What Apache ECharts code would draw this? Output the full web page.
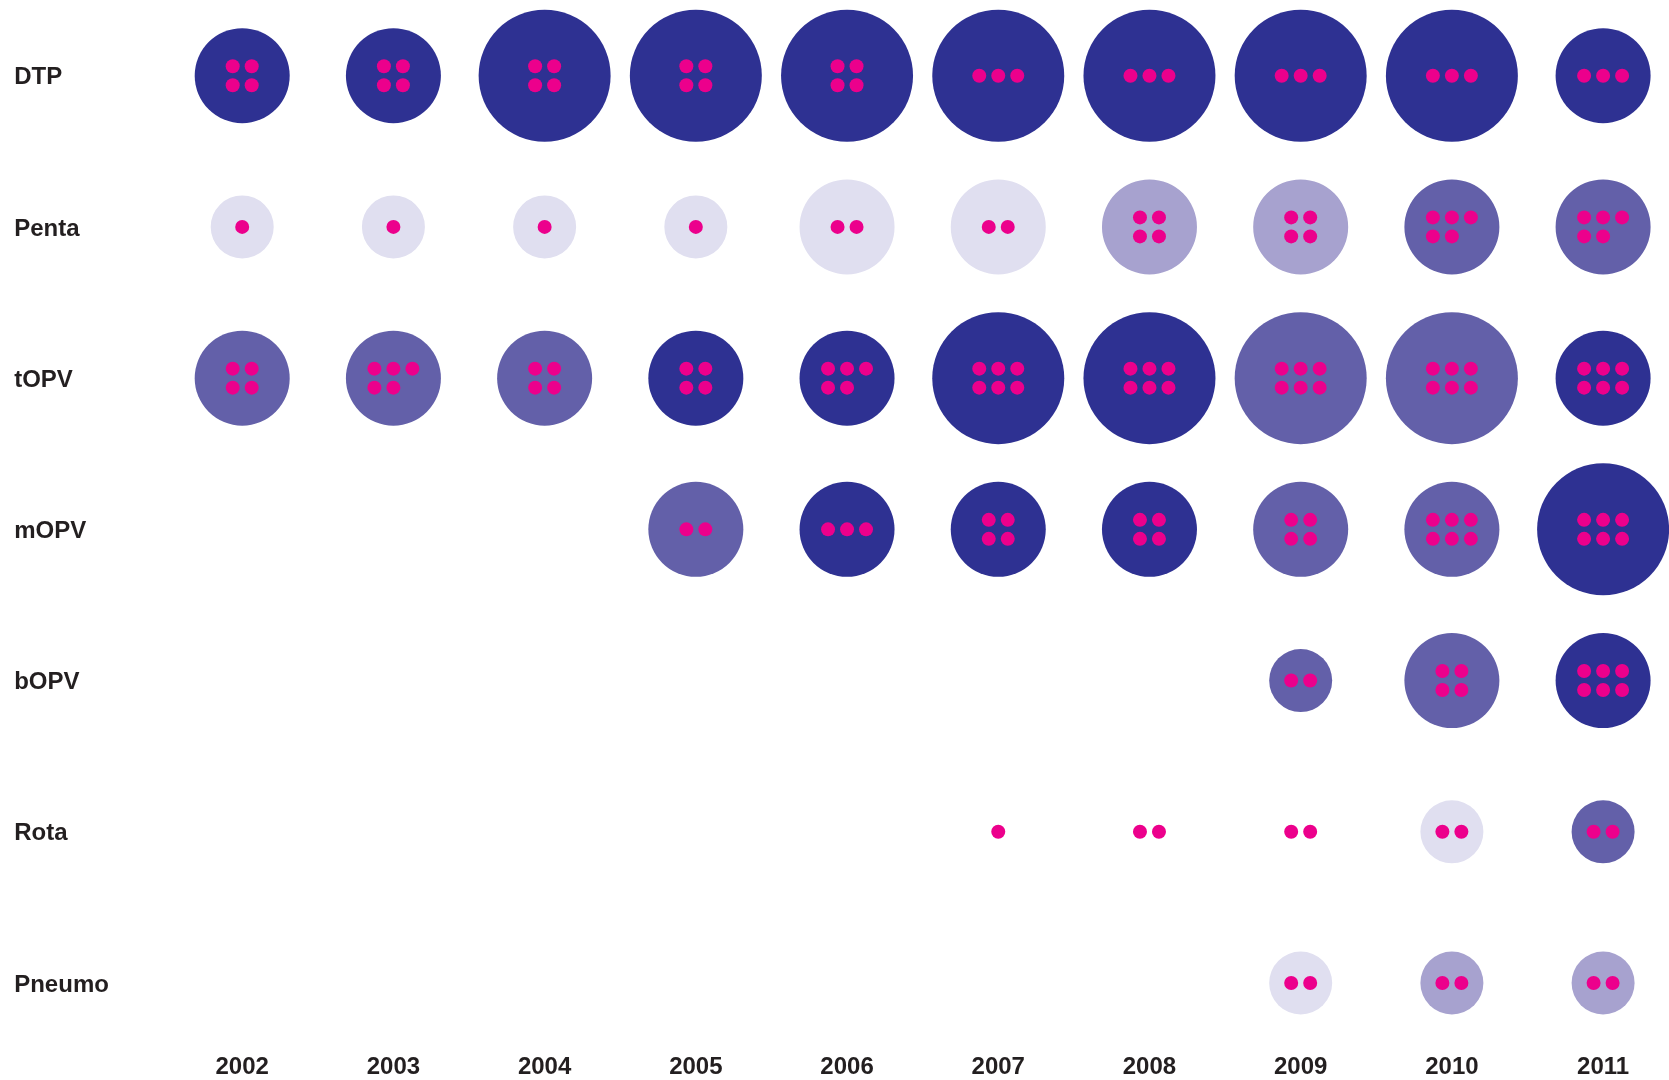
<!DOCTYPE html>
<html>
    <head>
        <meta charset=utf-8>
        <style>
            html, body { margin: 0; padding: 0; background: #fff; }
        </style>
    </head>
    <body>
        <div id="chart" style="width:1669px;height:1080px"></div>
        <script src="https://cdn.jsdelivr.net/npm/echarts@6/dist/echarts.min.js"></script>
        <script type="text/javascript">

            var myChart = echarts.init(document.querySelector('#chart'));

            let years = ['2002', '2003', '2004', '2005', '2006', '2007', '2008', '2009', '2010', '2011']
            let vaccines = ['DTP', 'Penta', 'tOPV', 'mOPV', 'bOPV', 'Rota', 'Pneumo']

            // circle size class: 1 small, 2 medium, 3 large, 0 = no circle (dots only), null = nothing
            let circleSize = [
                [2, 2, 3, 3, 3, 3, 3, 3, 3, 2],
                [1, 1, 1, 1, 2, 2, 2, 2, 2, 2],
                [2, 2, 2, 2, 2, 3, 3, 3, 3, 2],
                [null, null, null, 2, 2, 2, 2, 2, 2, 3],
                [null, null, null, null, null, null, null, 1, 2, 2],
                [null, null, null, null, null, 0, 0, 0, 1, 1],
                [null, null, null, null, null, null, null, 1, 1, 1]
            ]
            // circle shade: 0 pale, 1 light, 2 mid, 3 dark
            let shade = [
                [3, 3, 3, 3, 3, 3, 3, 3, 3, 3],
                [0, 0, 0, 0, 0, 0, 1, 1, 2, 2],
                [2, 2, 2, 3, 3, 3, 3, 2, 2, 3],
                [null, null, null, 2, 3, 3, 3, 2, 2, 3],
                [null, null, null, null, null, null, null, 2, 2, 3],
                [null, null, null, null, null, null, null, null, 0, 2],
                [null, null, null, null, null, null, null, 0, 1, 1]
            ]
            // number of pink dots
            let doses = [
                [4, 4, 4, 4, 4, 3, 3, 3, 3, 3],
                [1, 1, 1, 1, 2, 2, 4, 4, 5, 5],
                [4, 5, 4, 4, 5, 6, 6, 6, 6, 6],
                [null, null, null, 2, 3, 4, 4, 4, 6, 6],
                [null, null, null, null, null, null, null, 2, 4, 6],
                [null, null, null, null, null, 1, 2, 2, 2, 2],
                [null, null, null, null, null, null, null, 2, 2, 2]
            ]

            let shadeColors = ['#e0dff0', '#a7a2cf', '#6360a9', '#2e3192']
            let radius = [0, 31.5, 47.5, 66]
            let gap = 19  // spacing between dots
            let dotR = 7

            // dot offsets (in units of gap) for each count
            function dotLayout(n) {
                switch (n) {
                case 1: return [[0, 0]]
                case 2: return [[-0.5, 0], [0.5, 0]]
                case 3: return [[-1, 0], [0, 0], [1, 0]]
                case 4: return [[-0.5, -0.5], [0.5, -0.5], [-0.5, 0.5], [0.5, 0.5]]
                case 5: return [[-1, -0.5], [0, -0.5], [1, -0.5], [-1, 0.5], [0, 0.5]]
                case 6: return [[-1, -0.5], [0, -0.5], [1, -0.5], [-1, 0.5], [0, 0.5], [1, 0.5]]
                default: return []
                }
            }

            let data = []
            vaccines.forEach(function (v, j) {
                years.forEach(function (y, i) {
                    if (circleSize[j][i] === null) return
                    data.push([i, j, circleSize[j][i], shade[j][i] === null ? -1 : shade[j][i], doses[j][i]])
                })
            })

            let labelFont = {
                fontFamily: 'Liberation Sans, Arial, sans-serif',
                fontWeight: 'bold',
                fontSize: 24,
                color: '#231f20'
            }

            let option = {
                animation: false,
                grid: {
                    left: 242.2,
                    right: 65.9,
                    top: 75.7,
                    bottom: 97
                },
                xAxis: {
                    type: 'category',
                    data: years,
                    boundaryGap: false,
                    axisLine: {show: false},
                    axisTick: {show: false},
                    splitLine: {show: false},
                    axisLabel: Object.assign({margin: 72, interval: 0}, labelFont)
                },
                yAxis: {
                    type: 'category',
                    data: vaccines,
                    inverse: true,
                    boundaryGap: false,
                    axisLine: {show: false},
                    axisTick: {show: false},
                    splitLine: {show: false},
                    axisLabel: Object.assign({margin: 228, align: 'left', verticalAlign: 'top', interval: 0, padding: [-10, 0, 0, 0]}, labelFont)
                },
                series: [{
                    type: 'custom',
                    clip: false,
                    data: data,
                    renderItem: function (params, api) {
                        let p = api.coord([api.value(0), api.value(1)])
                        let size = api.value(2)
                        let col = api.value(3)
                        let n = api.value(4)
                        let children = []
                        if (size > 0) {
                            children.push({
                                type: 'circle',
                                shape: {cx: p[0], cy: p[1], r: radius[size]},
                                style: {fill: shadeColors[col]}
                            })
                        }
                        dotLayout(n).forEach(function (d) {
                            children.push({
                                type: 'circle',
                                shape: {cx: p[0] + d[0] * gap, cy: p[1] + d[1] * gap, r: dotR},
                                style: {fill: '#ec008c'}
                            })
                        })
                        return {type: 'group', children: children}
                    }
                }]
            }
            myChart.setOption(option);
        </script>
    </body>
</html>
